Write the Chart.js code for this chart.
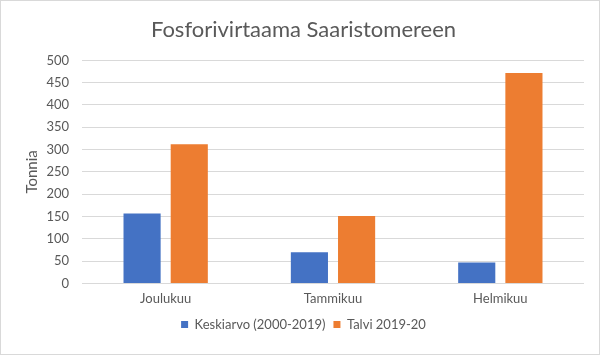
<!DOCTYPE html>
<html>
<head>
<meta charset="utf-8">
<script src="https://cdn.jsdelivr.net/npm/chart.js@4"></script>
<style>
  html, body { margin: 0; padding: 0; background: #fff; }
  #wrap { width: 598px; height: 353px; border: 1px solid #d9d9d9; position: relative; }
  canvas { display: block; }
</style>
</head>
<body>
<div id="wrap"><canvas id="c" width="598" height="353"></canvas></div>
<script>
const categories = ["Joulukuu", "Tammikuu", "Helmikuu"];
const seriesNames = ["Keskiarvo (2000-2019)", "Talvi 2019-20"];
const keskiarvo = [157, 70, 47];
const talvi = [312, 151, 472];
const yTicks = [0, 50, 100, 150, 200, 250, 300, 350, 400, 450, 500];

const FONT = "Lato, 'Open Sans', sans-serif";
const GREY = "#595959";

new Chart(document.getElementById("c"), {
  type: "bar",
  data: {
    labels: categories,
    datasets: [
      { label: seriesNames[0], data: keskiarvo, backgroundColor: "#4472c4", borderColor: "#4472c4", borderWidth: 0 },
      { label: seriesNames[1], data: talvi, backgroundColor: "#ed7d31", borderColor: "#ed7d31", borderWidth: 0 }
    ]
  },
  options: {
    responsive: false,
    animation: false,
    layout: { padding: { left: 22, right: 15, top: 0, bottom: 13 } },
    datasets: { bar: { categoryPercentage: 0.564, barPercentage: 0.787 } },
    plugins: {
      title: {
        display: true,
        text: "Fosforivirtaama Saaristomereen",
        color: GREY,
        font: { family: FONT, size: 22, weight: "normal" },
        padding: { top: 16, bottom: 17 }
      },
      legend: {
        position: "bottom",
        labels: {
          color: GREY,
          font: { family: FONT, size: 13 },
          boxWidth: 7,
          boxHeight: 7,
          padding: 8
        }
      },
      tooltip: { enabled: false }
    },
    scales: {
      x: {
        afterFit: (s) => { s.height -= 5; },
        grid: { display: false, drawTicks: false },
        border: { display: false },
        ticks: { color: GREY, font: { family: FONT, size: 13 }, padding: 8 }
      },
      y: {
        min: 0,
        max: 500,
        afterBuildTicks: (s) => { s.ticks = yTicks.map(v => ({ value: v })); },
        afterFit: (s) => { s.width = 59; },
        grid: { color: "#d9d9d9", drawTicks: false },
        border: { display: false },
        ticks: { color: GREY, font: { family: FONT, size: 13 }, padding: 13 },
        title: {
          display: true,
          text: "Tonnia",
          color: GREY,
          font: { family: FONT, size: 15 },
          padding: { top: 0, bottom: 4 }
        }
      }
    }
  }
});
</script>
</body>
</html>
